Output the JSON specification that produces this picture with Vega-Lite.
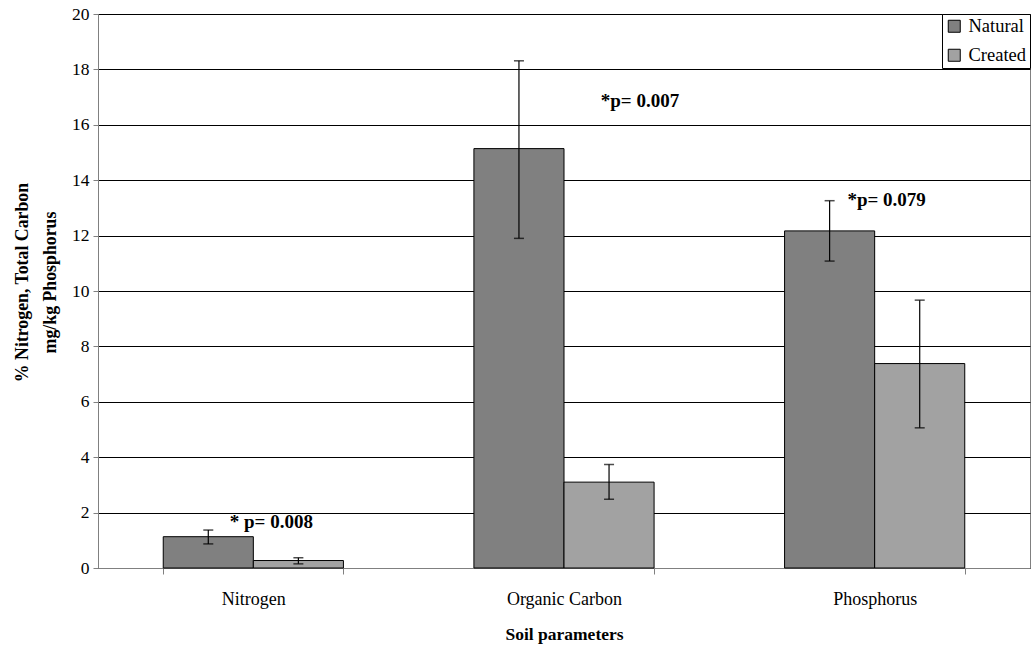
{
  "$schema": "https://vega.github.io/schema/vega-lite/v6.json",
  "width": 932,
  "height": 554,
  "autosize": {"type": "none"},
  "padding": {"left": 98, "top": 14, "right": 2, "bottom": 84},
  "background": "white",
  "config": {
    "font": "Liberation Serif",
    "view": {"stroke": "#808080", "strokeWidth": 1},
    "axis": {"labelFont": "Liberation Serif", "titleFont": "Liberation Serif", "labelColor": "black", "titleColor": "black"}
  },
  "datasets": {
    "bars": [
      {"param": "Nitrogen", "group": "Natural", "value": 1.13, "lo": 0.87, "hi": 1.37},
      {"param": "Nitrogen", "group": "Created", "value": 0.27, "lo": 0.15, "hi": 0.37},
      {"param": "Organic Carbon", "group": "Natural", "value": 15.14, "lo": 11.9, "hi": 18.31},
      {"param": "Organic Carbon", "group": "Created", "value": 3.1, "lo": 2.48, "hi": 3.74},
      {"param": "Phosphorus", "group": "Natural", "value": 12.17, "lo": 11.08, "hi": 13.26},
      {"param": "Phosphorus", "group": "Created", "value": 7.38, "lo": 5.06, "hi": 9.67}
    ],
    "labels": [
      {"param": "Nitrogen", "y": 1.66, "label": "* p= 0.008"},
      {"param": "Organic Carbon", "y": 16.86, "label": "*p= 0.007"},
      {"param": "Phosphorus", "y": 13.3, "label": "*p= 0.079"}
    ]
  },
  "encoding": {
    "x": {
      "field": "param", "type": "nominal",
      "sort": ["Nitrogen", "Organic Carbon", "Phosphorus"],
      "scale": {"paddingInner": 0.42, "paddingOuter": 0.21},
      "axis": {
        "title": "Soil parameters", "titleFontSize": 17.5, "titleFontWeight": "bold", "titlePadding": 17,
        "labelAngle": 0, "labelFontSize": 18, "labelPadding": 16, "tickBand": "extent", "tickSize": 6,
        "tickColor": "#808080", "domainColor": "#808080", "grid": false
      }
    }
  },
  "layer": [
    {
      "data": {"name": "bars"},
      "mark": {"type": "bar", "stroke": "black", "strokeWidth": 1},
      "encoding": {
        "xOffset": {"field": "group", "type": "nominal", "sort": ["Natural", "Created"], "scale": {"paddingInner": 0, "paddingOuter": 0}},
        "y": {
          "field": "value", "type": "quantitative",
          "scale": {"domain": [0, 20], "nice": false},
          "axis": {
            "title": ["% Nitrogen, Total Carbon", "mg/kg Phosphorus"],
            "titleFontSize": 17.8, "titleFontWeight": "bold", "titleLineHeight": 28,
            "titleX": -67, "titleY": 268, "titleAngle": -90, "titleBaseline": "bottom",
            "values": [0, 2, 4, 6, 8, 10, 12, 14, 16, 18, 20],
            "labelFontSize": 17.5, "labelPadding": 4, "tickSize": 5,
            "tickColor": "#808080", "domainColor": "#808080",
            "grid": true, "gridColor": "black", "gridWidth": 1
          }
        },
        "fill": {
          "field": "group", "type": "nominal",
          "scale": {"domain": ["Natural", "Created"], "range": ["#808080", "#a2a2a2"]},
          "legend": {
            "title": null, "orient": "top-right", "offset": 0,
            "strokeColor": "black", "fillColor": "white", "padding": 3,
            "labelFont": "Liberation Serif", "labelFontSize": 18.5, "labelColor": "black",
            "symbolType": "square", "symbolSize": 144, "symbolStrokeColor": "black", "symbolStrokeWidth": 1,
            "rowPadding": 10, "labelOffset": 5
          }
        }
      }
    },
    {
      "data": {"name": "bars"},
      "mark": {"type": "rule", "color": "black", "strokeWidth": 1.2},
      "encoding": {
        "xOffset": {"field": "group", "type": "nominal", "sort": ["Natural", "Created"]},
        "y": {"field": "lo", "type": "quantitative"},
        "y2": {"field": "hi"}
      }
    },
    {
      "data": {"name": "bars"},
      "mark": {"type": "tick", "color": "black", "size": 10, "thickness": 1.5},
      "encoding": {
        "xOffset": {"field": "group", "type": "nominal", "sort": ["Natural", "Created"]},
        "y": {"field": "hi", "type": "quantitative"}
      }
    },
    {
      "data": {"name": "bars"},
      "mark": {"type": "tick", "color": "black", "size": 10, "thickness": 1.5},
      "encoding": {
        "xOffset": {"field": "group", "type": "nominal", "sort": ["Natural", "Created"]},
        "y": {"field": "lo", "type": "quantitative"}
      }
    },
    {
      "data": {"name": "labels"},
      "transform": [{"filter": "datum.param === 'Nitrogen'"}],
      "mark": {"type": "text", "font": "Liberation Serif", "fontSize": 19, "fontWeight": "bold", "color": "black", "dx": 18},
      "encoding": {"y": {"field": "y", "type": "quantitative"}, "text": {"field": "label"}}
    },
    {
      "data": {"name": "labels"},
      "transform": [{"filter": "datum.param === 'Organic Carbon'"}],
      "mark": {"type": "text", "font": "Liberation Serif", "fontSize": 19, "fontWeight": "bold", "color": "black", "dx": 76},
      "encoding": {"y": {"field": "y", "type": "quantitative"}, "text": {"field": "label"}}
    },
    {
      "data": {"name": "labels"},
      "transform": [{"filter": "datum.param === 'Phosphorus'"}],
      "mark": {"type": "text", "font": "Liberation Serif", "fontSize": 19, "fontWeight": "bold", "color": "black", "dx": 12},
      "encoding": {"y": {"field": "y", "type": "quantitative"}, "text": {"field": "label"}}
    }
  ]
}
